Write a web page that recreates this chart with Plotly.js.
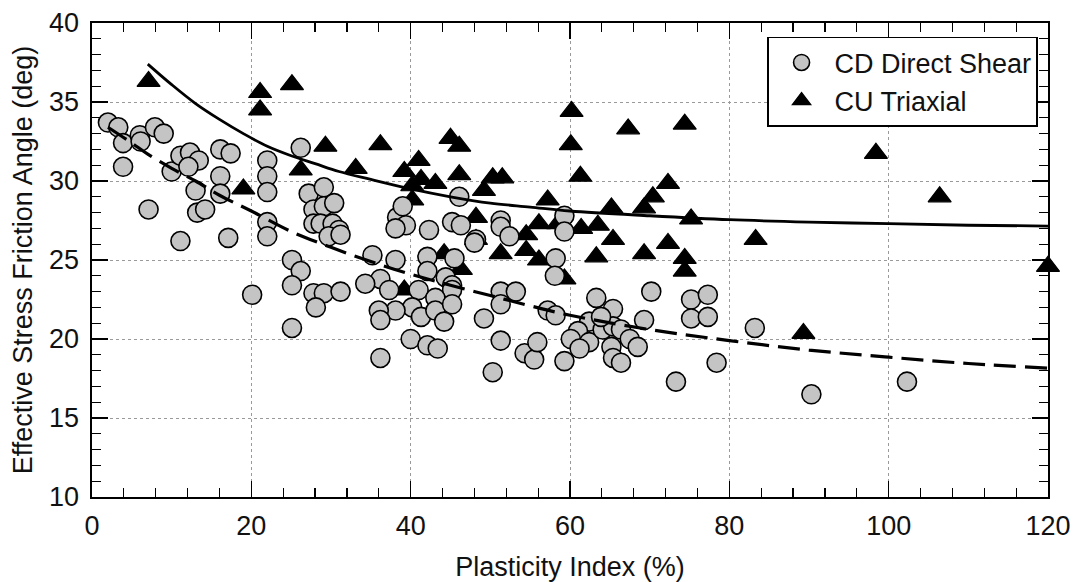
<!DOCTYPE html>
<html>
<head>
<meta charset="utf-8">
<script src="https://cdn.plot.ly/plotly-3.0.1.min.js"></script>
<style>html,body{margin:0;padding:0;background:#fff;}#chart{width:1075px;height:582px;}</style>
</head>
<body>
<div id="chart"></div>
<script>
// CD Direct Shear (circles)
const cdPI = [2.0,3.3,3.9,3.9,6.0,6.1,7.1,7.9,9.0,10.0,11.1,11.1,12.3,13.4,12.1,13.0,13.2,14.2,16.1,17.4,16.1,16.1,17.1,
  22.0,22.0,22.0,22.0,22.0,20.1,26.2,25.1,26.2,25.1,25.1,27.2,29.1,27.8,29.1,30.4,27.8,28.7,30.2,31.0,29.7,31.2,
  27.8,29.1,31.2,28.1,38.3,39.4,38.1,39.0,42.3,46.1,45.2,46.3,48.2,48.0,51.3,51.3,52.4,35.2,38.1,36.2,34.3,37.3,
  42.1,42.1,44.4,45.2,45.5,41.0,45.2,43.1,40.2,41.3,43.1,45.2,44.2,38.1,36.0,36.2,40.0,42.1,43.4,36.2,49.2,51.3,
  53.2,51.3,51.3,50.3,54.3,55.5,55.9,58.2,58.1,57.2,58.2,59.3,63.3,65.4,62.4,61.0,60.1,62.4,61.2,64.1,65.4,66.4,
  67.5,68.5,65.2,65.4,66.4,63.9,70.2,69.3,75.2,77.3,75.2,77.3,73.3,78.4,83.2,90.3,102.3,59.3,59.3];
const cdPhi = [33.7,33.4,32.4,30.9,32.9,32.5,28.2,33.4,33.0,30.6,31.6,26.2,31.8,31.3,30.9,29.4,28.0,28.2,32.0,31.75,30.3,29.2,26.4,
  31.3,30.3,29.3,27.4,26.5,22.8,32.1,25.0,24.3,23.4,20.7,29.2,29.6,28.2,28.4,28.6,27.3,27.3,27.3,26.9,26.5,26.6,
  22.9,22.9,23.0,22.0,27.7,27.2,27.0,28.4,26.9,29.0,27.4,27.2,26.3,26.1,27.5,27.1,26.5,25.3,25.0,23.8,23.5,23.1,
  25.2,24.3,23.9,23.4,25.1,23.1,23.1,22.6,22.0,21.4,21.8,22.2,21.1,21.8,21.8,21.2,20.0,19.6,19.4,18.8,21.3,23.0,
  23.0,22.2,19.9,17.9,19.1,18.7,19.8,25.1,24.0,21.8,21.5,18.6,22.6,21.9,21.1,20.5,20.0,19.8,19.4,20.6,20.8,20.6,
  20.0,19.5,19.5,18.8,18.5,21.4,23.0,21.2,22.5,22.8,21.3,21.4,17.3,18.5,20.7,16.5,17.3,27.8,26.8];

// CU Triaxial (triangles)
const cuPI = [7.1,21.1,21.1,25.1,29.3,26.2,19.0,33.1,36.2,45.0,46.1,41.0,39.2,41.3,43.1,46.1,40.2,40.2,50.3,51.5,49.2,
  48.2,48.2,54.5,56.1,51.3,44.2,46.3,39.2,60.2,60.1,67.3,74.4,61.3,72.3,57.2,70.4,69.3,65.2,58.5,61.4,63.5,75.2,
  65.4,72.3,83.3,54.5,56.1,63.3,69.3,74.4,74.4,59.3,98.4,106.4,89.3,120.0];
const cuPhi = [36.3,35.6,34.5,36.1,32.2,30.7,29.5,30.8,32.3,32.7,32.2,31.3,30.6,30.1,29.85,30.4,29.7,28.8,30.2,30.2,29.4,
  27.7,26.3,26.6,27.3,25.4,25.4,24.4,23.1,34.4,32.3,33.3,33.6,30.3,29.85,28.8,29.0,28.3,28.3,27.3,27.0,27.2,27.6,
  26.3,26.05,26.3,25.6,25.0,25.2,25.4,25.1,24.3,23.8,31.75,29.0,20.35,24.6];

// Trend curves
const cuFitPI  = [7,10,13,16,19,22,25,28,31,35,40,45,50,55,60,70,80,90,100,110,120];
const cuFitPhi = [37.4,36.1,34.9,33.9,33.0,32.2,31.6,31.1,30.6,30.1,29.5,29.0,28.6,28.35,28.1,27.8,27.55,27.4,27.3,27.2,27.15];
const cdFitPI  = [2,5,7,10,13,16,20,25,30,35,40,45,50,55,60,70,80,90,100,110,120];
const cdFitPhi = [33.4,32.4,31.7,30.8,30.0,29.1,28.1,26.8,25.8,24.9,24.1,23.4,22.75,22.1,21.5,20.6,19.9,19.3,18.85,18.45,18.15];

const xTicks = [0,20,40,60,80,100,120];
const yTicks = [10,15,20,25,30,35,40];

const FONT = '"Liberation Sans", Arial, Helvetica, sans-serif';

const traces = [
  {x: cuPI, y: cuPhi, type: 'scatter', mode: 'markers', name: 'CU Triaxial', legendrank: 2, cliponaxis: false,
   marker: {symbol: 'triangle-up', size: 20, color: '#000', line: {color: '#000', width: 1.2}}},
  {x: cdPI, y: cdPhi, type: 'scatter', mode: 'markers', name: 'CD Direct Shear', legendrank: 1,
   marker: {symbol: 'circle', size: 19, color: '#c4c4c4', line: {color: '#000', width: 1.6}}},
  {x: cuFitPI, y: cuFitPhi, type: 'scatter', mode: 'lines', showlegend: false,
   line: {color: '#000', width: 2.8, shape: 'spline', smoothing: 1}},
  {x: cdFitPI, y: cdFitPhi, type: 'scatter', mode: 'lines', showlegend: false,
   line: {color: '#000', width: 3.2, shape: 'spline', smoothing: 1, dash: '22px,9px'}}
];

const axisCommon = {
  showline: true, linecolor: '#000', linewidth: 1.6, mirror: 'allticks',
  ticks: 'inside', ticklen: 16, tickwidth: 1.4, tickcolor: '#000',
  showgrid: true, gridcolor: '#9a9a9a', gridwidth: 1, griddash: 'dot',
  zeroline: false, tickfont: {family: FONT, size: 27, color: '#111'}
};

const layout = {
  width: 1075, height: 582,
  margin: {l: 92, r: 27, t: 23, b: 85},
  paper_bgcolor: '#fff', plot_bgcolor: '#fff',
  font: {family: FONT, size: 27, color: '#111'},
  showlegend: true,
  xaxis: Object.assign({}, axisCommon, {
    range: [0, 120], tickvals: xTicks, ticktext: xTicks.map(String),
    minor: {dtick: 4, tick0: 0, ticks: 'inside', ticklen: 9, tickwidth: 1.2, tickcolor: '#000', showgrid: false},
    ticklabelstandoff: 4,
    title: {text: 'Plasticity Index (%)', font: {family: FONT, size: 27, color: '#111'}, standoff: 18}
  }),
  yaxis: Object.assign({}, axisCommon, {
    range: [10, 40], tickvals: yTicks, ticktext: yTicks.map(String),
    minor: {dtick: 1, tick0: 10, ticks: 'inside', ticklen: 9, tickwidth: 1.2, tickcolor: '#000', showgrid: false},
    ticklabelstandoff: 6,
    title: {text: 'Effective Stress Friction Angle (deg)', font: {family: FONT, size: 27, color: '#111'}, standoff: 8}
  }),
  legend: {
    x: 0.9895, xanchor: 'right', y: 0.781, yanchor: 'bottom',
    bgcolor: '#fff', bordercolor: '#000', borderwidth: 1.6,
    font: {family: FONT, size: 27, color: '#111'},
    itemwidth: 56, tracegroupgap: 0
  }
};

Plotly.newPlot('chart', traces, layout, {staticPlot: true, displayModeBar: false});
</script>
</body>
</html>
